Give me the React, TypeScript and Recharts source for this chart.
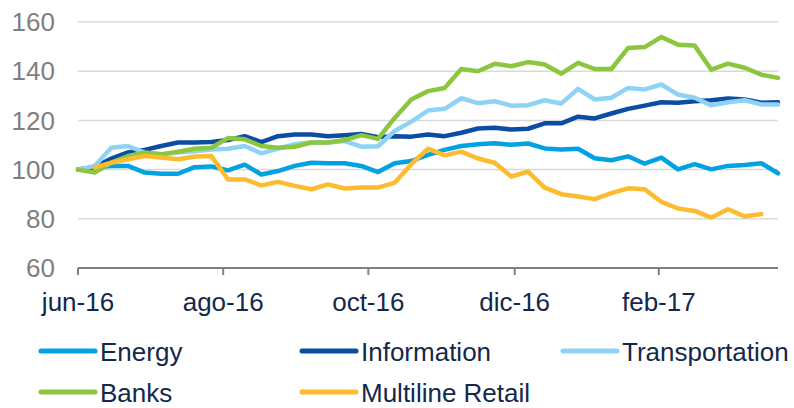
import React from 'react';
import { LineChart, Line, XAxis, YAxis, CartesianGrid, Legend } from 'recharts';

const weeks = Array.from({ length: 43 }, (_, i) => i);
const energy = [100,100.8,101.5,101.5,98.8,98.3,98.3,101,101.3,99.7,102,98,99.4,101.5,102.8,102.6,102.6,101.5,99,102.6,103.5,106,108,109.6,110.3,110.7,110.1,110.6,108.6,108.2,108.5,104.6,103.8,105.4,102.4,104.9,100.1,102.2,100.1,101.5,101.9,102.6,98.5];
const information = [100,101,104.5,107,108,109.6,111,111,111.2,112,113.6,111.2,113.6,114.3,114.3,113.6,114,114.5,113.2,113.6,113.4,114.3,113.6,115,116.7,117,116.3,116.6,118.8,118.8,121.5,120.8,122.8,124.7,126,127.4,127.2,127.8,128.2,128.9,128.5,127.2,127.4];
const transportation = [100,101.5,108.9,109.6,106.9,106.2,106.9,107.5,108.2,108.5,109.6,106.6,108.5,110.3,111,111,111.6,109.3,109.5,115.7,119.5,124,124.7,129,127,127.8,126,126.2,128.2,126.9,132.8,128.5,129.2,133.2,132.6,134.6,130.5,129.2,126.1,127.4,128.2,126.5,126.5];
const banks = [100,98.8,102.8,105.5,106.9,106.2,107.3,108.5,108.9,112.8,112.3,109.6,108.9,109.3,111,111,112,114,112.5,121,128.5,131.9,133.2,140.9,140,143,142,143.7,142.7,139,143.4,140.9,140.9,149.4,149.8,153.9,150.8,150.4,140.6,143.1,141.4,138.6,137.3];
const retail = [null,100.8,102.8,104.2,105.5,104.9,104.2,105.3,105.5,96,96,93.6,95,93.4,92,94,92.3,92.7,92.7,94.7,102.2,108.5,105.8,107.3,104.5,102.8,97.2,99.2,92.7,90,89.1,88,90.4,92.4,92,86.9,84.2,83.2,80.5,83.9,81,81.9,null];

const tickPositions = [0, 8.71, 17.42, 26.2, 34.85];
const tickLabels = ['jun-16', 'ago-16', 'oct-16', 'dic-16', 'feb-17'];
const yTicks = [60, 80, 100, 120, 140, 160];

const series = [
  { key: 'Energy', color: '#00A2E1', values: energy },
  { key: 'Information', color: '#0B4DA2', values: information },
  { key: 'Transportation', color: '#8ED3F5', values: transportation },
  { key: 'Banks', color: '#8CC63F', values: banks },
  { key: 'Multiline Retail', color: '#FDBB30', values: retail },
];

const data = weeks.map((w, i) => {
  const row: any = { w };
  series.forEach((s) => { row[s.key] = s.values[i]; });
  return row;
});

const FONT = 'Liberation Sans, Arial, sans-serif';
const NAVY = '#13284B';

const renderLegend = () => (
  <svg width={794} height={78} style={{ display: 'block' }}>
    {series.map((s, i) => {
      const col = i % 3;
      const row = Math.floor(i / 3);
      const x0 = 41 + col * 261;
      const cy = 21 + row * 41;
      return (
        <g key={s.key}>
          <line x1={x0} x2={x0 + 54} y1={cy} y2={cy} stroke={s.color} strokeWidth={5} strokeLinecap="round" />
          <text x={x0 + 59} y={cy + 9.5} fontSize={26} fontFamily={FONT} fill={NAVY}>{s.key}</text>
        </g>
      );
    })}
  </svg>
);

export default function App() {
  return (
    <div style={{ position: 'absolute', left: 0, top: 0, width: 794, height: 408, background: '#fff', overflow: 'hidden' }}>
      <LineChart width={794} height={408} data={data} margin={{ top: 22, right: 16, bottom: 100, left: 0 }}>
        <CartesianGrid vertical={false} stroke="#D9D9D9" strokeWidth={1.5} />
        <XAxis
          dataKey="w"
          type="number"
          domain={[0, 42]}
          ticks={tickPositions}
          interval={0}
          tickFormatter={(v: number, i: number) => tickLabels[i]}
          height={40}
          stroke="#808080"
          strokeWidth={2}
          tickSize={7}
          tickMargin={18}
          tick={{ fontSize: 26, fill: NAVY, fontFamily: FONT }}
        />
        <YAxis
          domain={[60, 160]}
          ticks={yTicks}
          width={78}
          axisLine={false}
          tickLine={false}
          tickSize={0}
          tickMargin={23}
          tick={{ fontSize: 26, fill: '#7F7F7F', fontFamily: FONT }}
        />
        <Legend
          layout="horizontal"
          verticalAlign="middle"
          align="center"
          content={renderLegend}
          wrapperStyle={{ left: 0, top: 330, width: 794, height: 78 }}
        />
        {series.map((s) => (
          <Line
            key={s.key}
            type="linear"
            dataKey={s.key}
            stroke={s.color}
            strokeWidth={4.5}
            strokeLinejoin="round"
            strokeLinecap="round"
            dot={false}
            activeDot={false}
            isAnimationActive={false}
          />
        ))}
      </LineChart>
    </div>
  );
}
